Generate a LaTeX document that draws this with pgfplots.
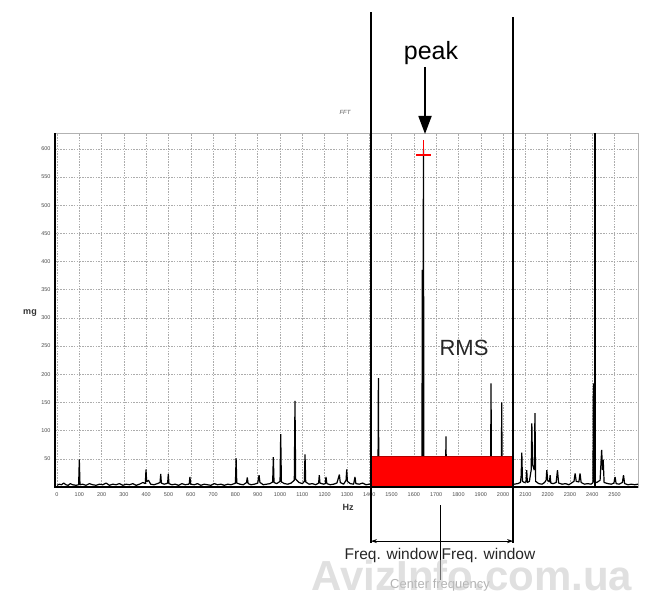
\documentclass[border=0pt]{standalone}
\usepackage{fontspec}
\setmainfont{Liberation Sans}
\usepackage{pgfplots}
\pgfplotsset{compat=1.18}
\usetikzlibrary{arrows.meta}
\begin{document}
\begin{tikzpicture}
\path[use as bounding box] (0,0) rectangle (647pt,600pt);
\begin{axis}[at={(55pt,113pt)}, anchor=south west, scale only axis,
  width=583pt, height=354pt,
  xmin=-9, xmax=2605, ymin=0, ymax=628,
  xtick={0,100,...,2500}, ytick={50,100,...,600},
  grid=major,
  major grid style={gray!65, dash pattern=on 1.5pt off 1.2pt, line width=0.5pt},
  axis line style={gray!60, line width=0.6pt},
  tick style={draw=none},
  ticklabel style={font=\fontsize{5.5}{6}\selectfont, text=gray!60!black},
  /pgf/number format/assume math mode=true,
  /pgf/number format/1000 sep={},
  xticklabel style={yshift=-2pt},
  yticklabel style={xshift=-1pt},
  clip=false]
% spectrum
\addplot[black, line width=1.2pt, line join=bevel] coordinates {
(0,3) (10,5) (20,4) (30,7) (40,4) (50,3) (60,6) (70,4) (85,3) (97,4) (100,49) (103,4)
(115,5) (130,3) (145,6) (160,4) (175,3) (190,5) (205,4) (220,7) (235,3) (250,5) (265,4)
(280,6) (295,3) (310,5) (325,4) (340,6) (355,3) (370,5) (385,8) (396,6) (399,31) (402,9)
(410,12) (420,5) (435,4) (450,6) (462,8) (465,23) (468,7) (480,5) (490,6) (496,7) (499,23) (502,6)
(515,4) (530,5) (545,3) (560,6) (575,4) (590,5) (593,6) (596,18) (599,5) (615,4) (630,6)
(645,3) (660,5) (675,4) (690,3) (705,6) (720,4) (735,5) (750,3) (765,5) (780,4) (795,6)
(800,7) (803,51) (806,7) (820,5) (835,4) (850,8) (853,17) (857,6) (870,4) (885,5) (900,7)
(906,21) (910,8) (925,4) (940,5) (955,6) (967,9) (970,53) (973,8) (985,6) (1000,10)
(1003,94) (1006,9) (1020,6) (1035,5) (1050,7) (1064,12) (1067,153) (1070,14) (1085,8)
(1100,6) (1109,10) (1112,58) (1115,9) (1130,5) (1145,6) (1160,4) (1173,7) (1176,21)
(1179,7) (1195,5) (1203,6) (1206,18) (1210,6) (1225,4) (1240,5) (1255,7) (1266,22) (1270,8)
(1285,5) (1296,12) (1299,31) (1302,10) (1315,6) (1330,5) (1336,18) (1340,6) (1355,5)
(1370,7) (1385,4) (1400,5) (1420,6) (1439,5) (1441,193) (1443,6) (1500,5) (1600,6)
(1636,8) (1638,385) (1640,20) (1643,600) (1645,8) (1700,6) (1742,8) (1744,90) (1746,7)
(1850,5) (1944,7) (1946,184) (1948,7) (1992,6) (1994,150) (1996,6) (2030,5)
(2050,5) (2065,6) (2078,8) (2081,20) (2084,61) (2087,10) (2095,8) (2103,9) (2106,30)
(2109,8) (2118,10) (2126,30) (2129,113) (2132,40) (2140,30) (2143,131) (2146,10)
(2160,6) (2175,5) (2186,8) (2193,12) (2196,30) (2200,12) (2208,9) (2211,21) (2214,7)
(2225,6) (2238,8) (2244,30) (2249,7) (2265,5) (2280,6) (2295,4) (2310,8) (2318,10)
(2323,24) (2328,10) (2340,9) (2345,24) (2350,8) (2365,5) (2380,6) (2395,5) (2403,8)
(2405,184) (2407,10) (2420,8) (2435,12) (2442,66) (2446,30) (2449,48) (2453,8)
(2470,6) (2485,5) (2497,7) (2502,18) (2507,6) (2520,5) (2535,8) (2540,21) (2545,6)
(2560,4) (2575,5) (2590,4) (2605,5)
};
% RMS band
\addplot[fill=red, draw=red!70!black, line width=0.4pt] coordinates {
(1410,0) (1410,55) (2042,55) (2042,0)} -- cycle;
% cursor line
\addplot[black, line width=1.4pt] coordinates {(2413,0) (2413,628)};
% thick left and bottom axes
\draw[black, line width=1.8pt] (rel axis cs:0,1) -- (rel axis cs:0,0) -- (rel axis cs:1,0);
% peak marker
\draw[red, line width=1.3pt] (axis cs:1610,589) -- (axis cs:1678,589);
\draw[red, line width=1.3pt] (axis cs:1643,589) -- (axis cs:1643,615);
% frequency window lines
\draw[black, line width=1.3pt] (axis cs:1408,842) -- (axis cs:1408,-99);
\draw[black, line width=1.3pt] (axis cs:2045,833) -- (axis cs:2045,-99);
\draw[black, line width=0.5pt] (axis cs:1717,-32) -- (axis cs:1717,-165);
\draw[black, line width=0.8pt, {Stealth[length=6pt,width=4pt]}-{Stealth[length=6pt,width=4pt]}]
  (axis cs:1408,-96) -- (axis cs:2045,-96);
\end{axis}
% annotations
\node[font=\fontsize{25}{30}\selectfont, anchor=base] at (431pt,540pt) {peak};
\draw[black, line width=1.8pt, -{Triangle[length=18pt, width=13pt]}] (425pt,533pt) -- (425pt,466pt);
\node[font=\fontsize{22}{26}\selectfont, anchor=base, text=black!85] at (464pt,244pt) {RMS};
\node[font=\fontsize{6}{7}\selectfont\itshape, text=gray!70!black] at (345pt,488pt) {FFT};
\node[font=\fontsize{9}{10}\selectfont\bfseries, text=black!80] at (30pt,287pt) {mg};
\node[font=\fontsize{9}{10}\selectfont\bfseries, text=black!80] at (348pt,93pt) {Hz};
\node[font=\fontsize{15.5}{18}\selectfont, anchor=base east, inner sep=0pt, text=black!85] at (438.5pt,41pt) {Freq. window};
\node[font=\fontsize{15.5}{18}\selectfont, anchor=base west, inner sep=0pt, text=black!85] at (441.5pt,41pt) {Freq. window};
\node[font=\fontsize{13}{15}\selectfont, anchor=base, inner sep=0pt, text=gray!60] at (440pt,12pt) {Center frequency};
\node[font=\fontsize{42}{46}\selectfont\bfseries, anchor=base, inner sep=0pt, text=gray!45, opacity=0.55] at (472pt,10pt) {AvizInfo.com.ua};
\end{tikzpicture}
\end{document}
